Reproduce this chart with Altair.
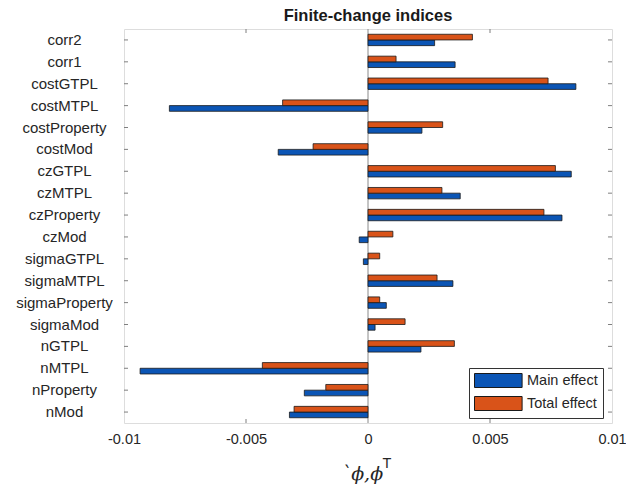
import altair as alt
import pandas as pd

# Factors, listed top to bottom
factors = [
    "corr2", "corr1", "costGTPL", "costMTPL", "costProperty", "costMod",
    "czGTPL", "czMTPL", "czProperty", "czMod", "sigmaGTPL", "sigmaMTPL",
    "sigmaProperty", "sigmaMod", "nGTPL", "nMTPL", "nProperty", "nMod",
]
main_effect = [
    0.00273, 0.00357, 0.00852, -0.00814, 0.00221, -0.00368,
    0.00833, 0.00378, 0.00795, -0.00036, -0.00019, 0.00348,
    0.00075, 0.00029, 0.00217, -0.00934, -0.00261, -0.00322,
]
total_effect = [
    0.00428, 0.00115, 0.00738, -0.00350, 0.00306, -0.00225,
    0.00768, 0.00303, 0.00721, 0.00102, 0.00048, 0.00283,
    0.00048, 0.00152, 0.00354, -0.00433, -0.00173, -0.00303,
]
series_names = ["Main effect", "Total effect"]
series_colors = ["#0b55b5", "#d95319"]
x_ticks = [-0.01, -0.005, 0, 0.005, 0.01]
inner_x_ticks = [-0.005, 0.005]
chart_title = "Finite-change indices"

rows = []
for f, m, t in zip(factors, main_effect, total_effect):
    rows.append({"factor": f, "effect": "Main effect", "value": m})
    rows.append({"factor": f, "effect": "Total effect", "value": t})
bars_df = pd.DataFrame(rows)

W, H = 488, 394
TICK = 0.000164  # inward tick length in data units (~4 px)
FONT = "Liberation Sans"
TEXT = "#262626"
FRAME = "#7f7f7f"

x_scale = alt.Scale(domain=[-0.01, 0.01], nice=False)
y_scale = alt.Scale(domain=factors, paddingInner=0.48, paddingOuter=0.24)

zero_line = alt.Chart(pd.DataFrame({"x": [0.0]})).mark_rule(
    color="#8a8a8a", strokeWidth=1
).encode(x=alt.X("x:Q", scale=x_scale))

bars = alt.Chart(bars_df).mark_bar(stroke="#1a1a1a", strokeWidth=0.8).encode(
    x=alt.X(
        "value:Q",
        scale=x_scale,
        axis=alt.Axis(
            values=x_ticks,
            labelExpr="toString(datum.value)",
            title=None,
            ticks=False,
            tickSize=0,
            domain=False,
            grid=False,
            labelFlush=False,
            labelPadding=9,
            labelFontSize=14.5,
            labelFont=FONT,
            labelColor=TEXT,
        ),
    ),
    y=alt.Y(
        "factor:N",
        scale=y_scale,
        sort=factors,
        axis=alt.Axis(
            title=None,
            ticks=False,
            tickSize=0,
            domain=False,
            labelAlign="center",
            labelBaseline="middle",
            labelPadding=60,
            labelFontSize=15,
            labelFont=FONT,
            labelColor=TEXT,
        ),
    ),
    yOffset=alt.YOffset(
        "effect:N",
        sort=["Total effect", "Main effect"],
        scale=alt.Scale(paddingInner=0.0, paddingOuter=0.0),
    ),
    color=alt.Color(
        "effect:N",
        scale=alt.Scale(domain=series_names, range=series_colors),
        legend=alt.Legend(
            orient="none",
            legendX=345,
            legendY=339,
            title=None,
            direction="vertical",
            fillColor="white",
            strokeColor="#333333",
            padding=5,
            symbolType="M-1,-1H5.8V1H-1Z",
            symbolSize=196,
            symbolStrokeColor="#1a1a1a",
            symbolStrokeWidth=1,
            symbolOpacity=1,
            labelFontSize=14.5,
            labelFont=FONT,
            labelColor=TEXT,
            labelOffset=38,
            rowPadding=4,
        ),
    ),
)

# Inward tick marks on the four sides of the frame
left_ticks = alt.Chart(
    pd.DataFrame({"factor": factors, "x0": -0.01, "x1": -0.01 + TICK})
).mark_rule(color=FRAME).encode(
    y=alt.Y("factor:N", scale=y_scale, sort=factors),
    x=alt.X("x0:Q", scale=x_scale),
    x2="x1:Q",
)
right_ticks = alt.Chart(
    pd.DataFrame({"factor": factors, "x0": 0.01 - TICK, "x1": 0.01})
).mark_rule(color=FRAME).encode(
    y=alt.Y("factor:N", scale=y_scale, sort=factors),
    x=alt.X("x0:Q", scale=x_scale),
    x2="x1:Q",
)
tick_df = pd.DataFrame({"x": inner_x_ticks})
top_ticks = alt.Chart(tick_df).mark_rule(color=FRAME).encode(
    x=alt.X("x:Q", scale=x_scale), y=alt.value(0), y2=alt.value(4)
)
bottom_ticks = alt.Chart(tick_df).mark_rule(color=FRAME).encode(
    x=alt.X("x:Q", scale=x_scale), y=alt.value(H - 4), y2=alt.value(H)
)

# Chart title, centred over the plot area
title_text = alt.Chart(
    pd.DataFrame({"x": [0.0], "t": [chart_title]})
).mark_text(
    align="center", baseline="alphabetic", font=FONT, fontWeight="bold",
    fontSize=16.5, color="#1a1a1a",
).encode(x=alt.X("x:Q", scale=x_scale), y=alt.value(-8), text="t:N")

# x-axis label: `phi, phi^T
xlabel_main = alt.Chart(
    pd.DataFrame({"x": [-0.00108], "t": ["`ϕ,ϕ"]})
).mark_text(
    align="left", baseline="alphabetic", font="DejaVu Serif",
    fontStyle="italic", fontSize=19, color=TEXT,
).encode(x=alt.X("x:Q", scale=x_scale), y=alt.value(451), text="t:N")
xlabel_sup = alt.Chart(
    pd.DataFrame({"x": [0.00059], "t": ["T"]})
).mark_text(
    align="left", baseline="alphabetic", font=FONT, fontSize=14.5, color=TEXT,
).encode(x=alt.X("x:Q", scale=x_scale), y=alt.value(439), text="t:N")

chart = alt.layer(
    zero_line, bars, left_ticks, right_ticks, top_ticks, bottom_ticks,
    title_text, xlabel_main, xlabel_sup,
).properties(
    width=W,
    height=H,
    padding={"left": 124, "top": 29, "right": 14, "bottom": 65},
    autosize=alt.AutoSizeParams(type="none"),
).configure_view(stroke=FRAME, strokeWidth=1).configure(background="white")

chart.save("out.html", embed_options={"renderer": "svg", "actions": False})
